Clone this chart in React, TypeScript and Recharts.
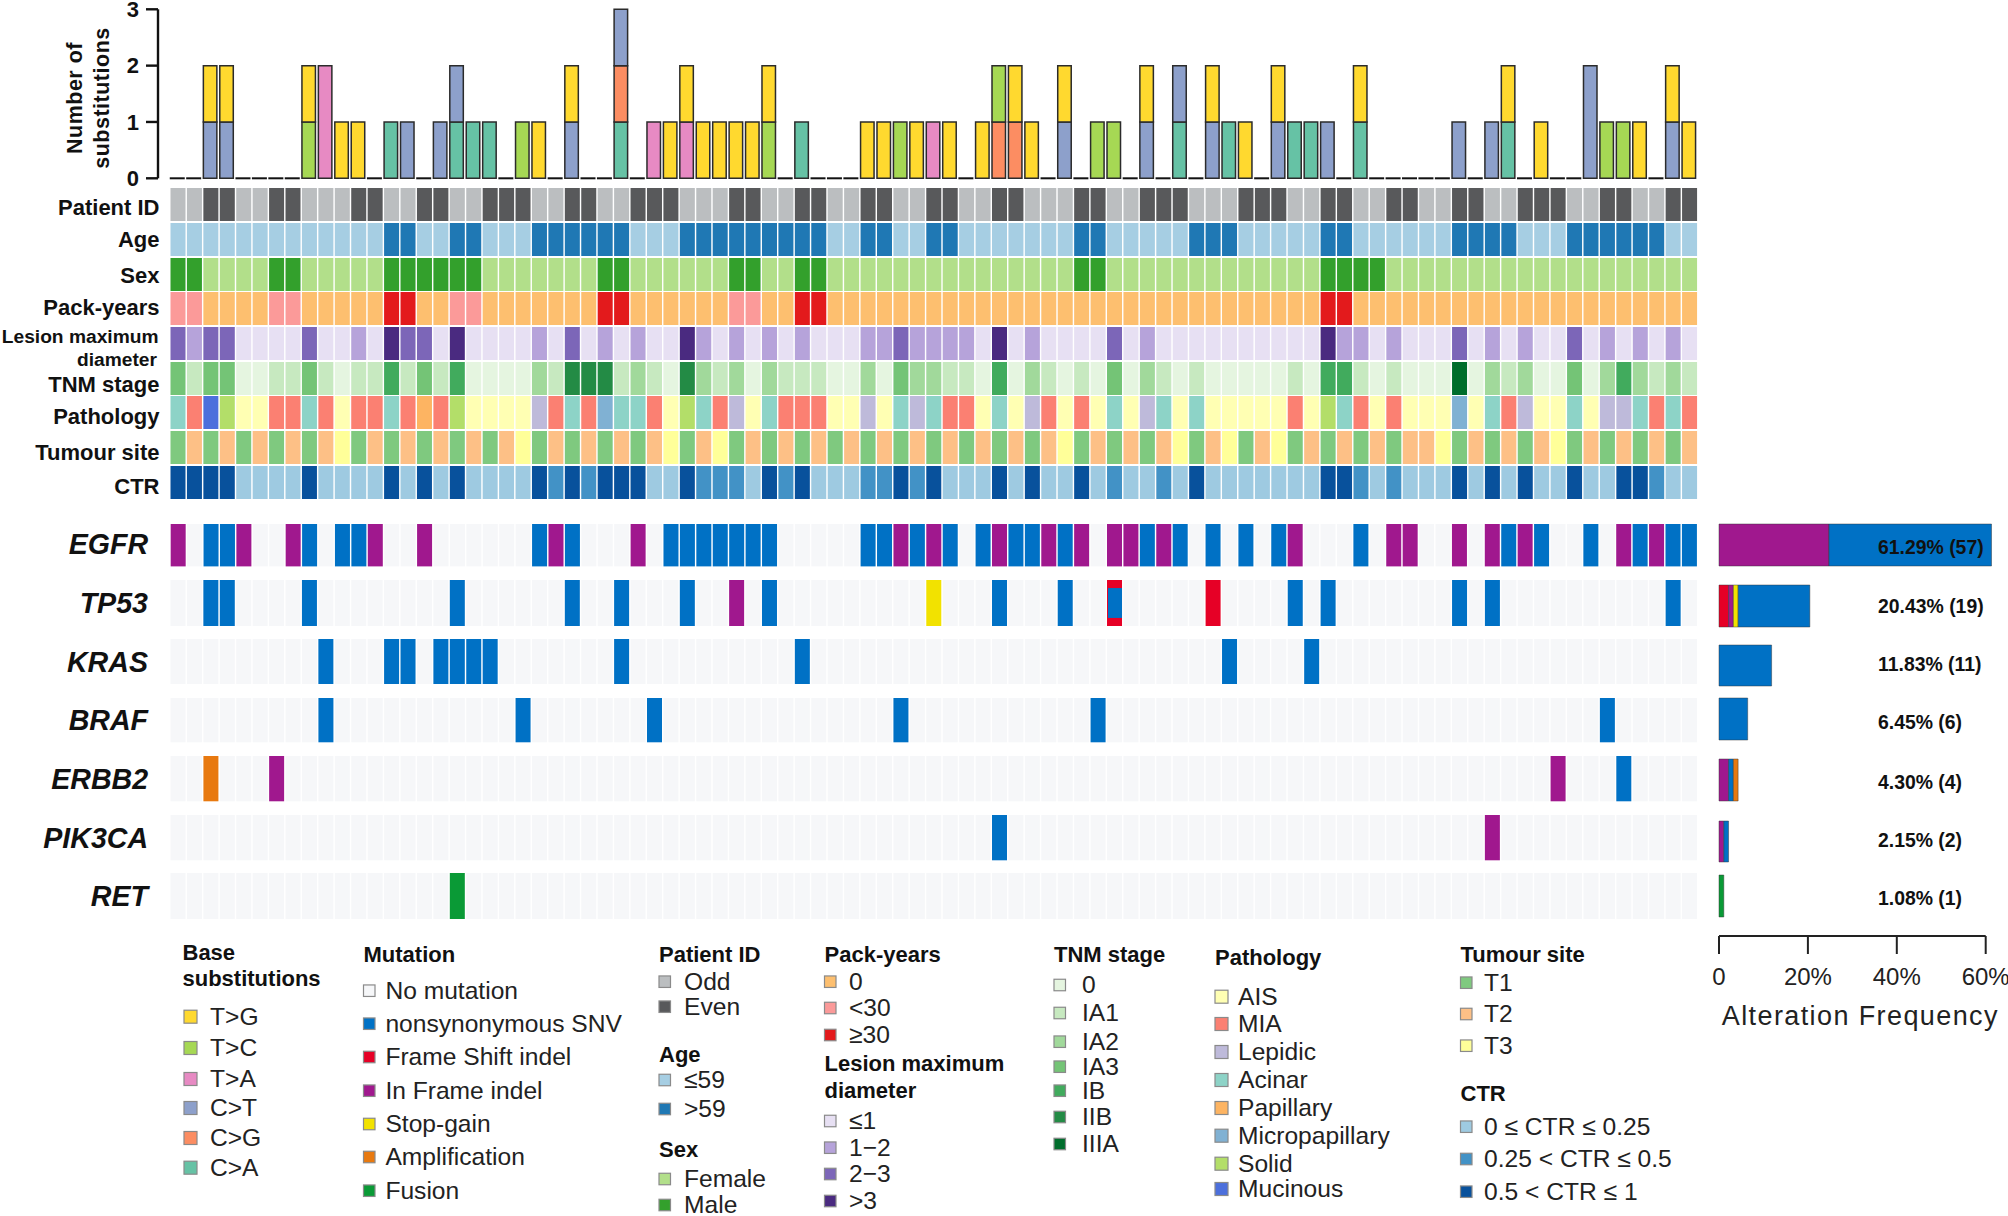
import React from "react";
import { BarChart, Bar, XAxis, YAxis } from "recharts";

// ---------- data: annotation tracks (one category code per patient) ----------
const PATIENT_ID = [
  0,0,1,1,0,0,1,1,0,0, 0,1,1,0,0,1,1,0,0,1, 1,1,0,0,1,1,0,0,1,1, 1,0,0,0,1,1,0,0,1,1,
  0,0,1,1,0,0,1,1,0,0, 1,1,0,0,0,1,1,0,0,1, 1,1,0,0,0,1,1,1,0,0, 1,1,0,0,1,1,0,0,1,1,
  0,0,1,1,1,0,0,1,1,0, 0,1,1];
const AGE = [
  0,0,0,0,0,0,0,0,0,0, 0,0,0,1,1,0,0,1,1,0, 0,0,1,1,1,1,1,1,0,0, 0,1,1,1,1,1,1,1,1,1,
  0,0,1,1,0,0,1,1,0,0, 0,0,0,0,0,1,1,0,0,0, 0,0,1,1,1,0,0,0,0,0, 1,1,0,0,0,0,0,0,1,1,
  1,1,0,0,0,1,1,1,1,1, 1,0,0];
const SEX = [
  1,1,0,0,0,0,1,1,0,0, 0,0,0,1,1,1,1,1,1,0, 0,0,0,0,0,0,1,1,0,0, 0,0,0,0,1,1,0,0,1,1,
  0,0,0,0,0,0,0,0,0,0, 0,0,0,0,0,1,1,0,0,0, 0,0,0,0,0,0,0,0,0,0, 1,1,1,1,0,0,0,0,0,0,
  0,0,0,0,0,0,0,0,0,0, 0,0,0];
const PACK_YEARS = [
  1,1,0,0,0,0,1,1,0,0, 0,0,0,2,2,0,0,1,1,0, 0,0,0,0,0,0,2,2,0,0, 0,0,0,0,1,1,0,0,2,2,
  0,0,0,0,0,0,0,0,0,0, 0,0,0,0,0,0,0,0,0,0, 0,0,0,0,0,0,0,0,0,0, 2,2,0,0,0,0,0,0,0,0,
  0,0,0,0,0,0,0,0,0,0, 0,0,0];
const LESION = [
  2,1,2,2,0,0,0,0,2,0, 0,1,0,3,2,2,0,3,0,0, 0,0,1,0,2,0,1,0,1,0, 0,3,1,0,1,0,1,0,1,0,
  0,0,1,1,2,1,1,1,1,0, 3,0,1,0,0,0,0,2,0,1, 0,0,0,0,0,0,0,0,0,0, 3,1,1,0,1,0,0,0,2,0,
  1,0,1,0,0,2,0,1,0,1, 0,1,0];
const TNM = [
  3,1,3,3,0,0,1,1,3,1, 0,1,1,4,1,3,1,4,0,0, 0,0,2,1,5,5,5,1,2,1, 0,5,2,1,2,0,2,1,1,1,
  0,0,2,0,3,2,2,1,1,0, 4,0,2,1,0,1,0,3,0,2, 1,0,1,0,0,0,0,0,1,0, 4,4,1,0,1,0,0,0,6,0,
  2,1,2,0,0,3,0,2,4,2, 1,2,1];
const PATHOLOGY = [
  3,1,7,6,0,0,1,1,3,1, 0,1,1,3,1,4,1,6,0,0, 0,0,2,1,3,1,5,3,3,1, 0,6,3,1,2,0,3,1,1,1,
  0,0,2,0,3,2,3,1,1,0, 3,0,2,1,0,1,0,3,0,2, 3,0,3,0,0,0,0,0,1,0, 6,3,1,0,1,0,0,0,5,0,
  3,1,2,0,0,3,0,2,2,3, 1,3,1];
const SITE = [
  0,1,0,1,0,1,0,1,0,1, 2,0,1,0,1,0,1,0,1,0, 1,2,0,1,0,1,0,1,0,1, 2,0,1,2,0,1,0,1,0,1,
  0,1,0,1,0,1,0,1,0,1, 0,1,0,1,2,0,1,0,1,0, 1,2,0,1,2,0,1,2,0,1, 0,1,0,1,0,1,1,2,0,1,
  0,1,0,1,2,0,1,0,1,0, 1,0,1];
const CTR = [
  2,2,2,2,0,0,0,0,2,0, 0,0,0,2,0,2,0,2,0,0, 0,0,2,1,2,1,2,2,2,0, 0,2,1,1,1,0,2,1,2,0,
  0,0,1,1,2,1,2,0,0,0, 2,0,2,0,0,2,0,1,0,0, 1,0,2,0,0,0,0,0,0,0, 2,2,1,0,1,0,0,0,2,0,
  2,0,2,0,0,2,0,0,2,2, 1,0,0];

// ---------- data: substitutions per patient (patient position, count) ----------
const PATIENT_COUNT = PATIENT_ID.length;
const SUB_TG: [number, number][] = [[2,1],[3,1],[8,1],[10,1],[11,1],[22,1],[24,1],[30,1],[31,1],[32,1],[33,1],[34,1],[35,1],[36,1],[42,1],[43,1],[45,1],[47,1],[49,1],[51,1],[52,1],[54,1],[59,1],[63,1],[65,1],[67,1],[72,1],[81,1],[83,1],[89,1],[91,1],[92,1]];
const SUB_TC: [number, number][] = [[8,1],[21,1],[36,1],[44,1],[50,1],[56,1],[57,1],[87,1],[88,1]];
const SUB_TA: [number, number][] = [[9,2],[29,1],[31,1],[46,1]];
const SUB_CT: [number, number][] = [[2,1],[3,1],[14,1],[16,1],[17,1],[24,1],[27,1],[54,1],[59,1],[61,1],[63,1],[67,1],[70,1],[78,1],[80,1],[86,2],[91,1]];
const SUB_CG: [number, number][] = [[27,1],[50,1],[51,1]];
const SUB_CA: [number, number][] = [[13,1],[17,1],[18,1],[19,1],[27,1],[38,1],[61,1],[64,1],[68,1],[69,1],[72,1],[81,1]];

// ---------- data: mutated patients per gene ----------
const EGFR_SNV = [2,3,8,10,11,22,24,30,31,32,33,34,35,36,42,43,45,47,49,51,52,54,59,61,63,65,67,72,81,83,86,89,91,92];
const EGFR_INFRAME = [0,4,7,12,15,23,28,44,46,50,53,55,57,58,60,68,74,75,78,80,82,88,90];
const TP53_SNV = [2,3,8,17,24,27,31,36,50,54,57,68,70,78,80,91];
const TP53_FRAMESHIFT = [57,63];
const TP53_INFRAME = [34];
const TP53_STOP = [46];
const KRAS_SNV = [9,13,14,16,17,18,19,27,38,64,69];
const BRAF_SNV = [9,21,29,44,56,87];
const ERBB2_SNV = [88];
const ERBB2_INFRAME = [6,84];
const ERBB2_AMP = [2];
const PIK3CA_SNV = [50];
const PIK3CA_INFRAME = [80];
const RET_FUSION = [17];

// ---------- data: alteration frequency (%) ----------
const GENES = ["EGFR","TP53","KRAS","BRAF","ERBB2","PIK3CA","RET"];
const FREQ_LABELS = ["61.29% (57)","20.43% (19)","11.83% (11)","6.45% (6)","4.30% (4)","2.15% (2)","1.08% (1)"];
const FREQ_FRAMESHIFT = [0,2.15,0,0,0,0,0];
const FREQ_INFRAME = [24.73,1.08,0,0,2.15,1.08,0];
const FREQ_STOP = [0,1.08,0,0,0,0,0];
const FREQ_SNV = [36.56,16.12,11.83,6.45,1.08,1.07,0];
const FREQ_AMP = [0,0,0,0,1.07,0,0];
const FREQ_FUSION = [0,0,0,0,0,0,1.08];
const FREQ_TICKS = [0,20,40,60];
const SUB_TICKS = [0,1,2,3];

// ---------- colours ----------
const C_SUB = { tg:"#FFD92F", tc:"#A6D854", ta:"#E78AC3", ct:"#8DA0CB", cg:"#FC8D62", ca:"#66C2A5" };
const C_MUT = { none:"#F6F7F9", snv:"#0071C5", fs:"#E60026", inframe:"#A0188E", stop:"#F2E200", amp:"#E8790F", fusion:"#0A9A36" };
const C_ID = ["#BBBEC0","#58595B"];
const C_AGE = ["#A6CEE3","#1F78B4"];
const C_SEX = ["#B2DF8A","#33A02C"];
const C_PACK = ["#FDBF6F","#FB9A99","#E31A1C"];
const C_LESION = ["#E7E0F3","#B6A3DA","#7C66B8","#4A2A80"];
const C_TNM = ["#E5F5E0","#C7E9C0","#A1D99B","#74C476","#41AB5D","#238B45","#006D2C"];
const C_PATH = ["#FFFFB3","#FB8072","#BEBADA","#8DD3C7","#FDB462","#80B1D3","#B3DE69","#4C6FDC"];
const C_SITE = ["#7FC97F","#FDC086","#FFFF99"];
const C_CTR = ["#9ECAE1","#4292C6","#08519C"];

const FONT = "'Liberation Sans', Arial, sans-serif";
const PAGE_W = 2008;
const GRID_L = 169.5;
const GRID_R = 1697.5;
const FREQ_L = 1719;

const patientKeys = Array.from({ length: PATIENT_COUNT }, (_, i) => i);

function pick(list: [number, number][], i: number) {
  const hit = list.find((e) => e[0] === i);
  return hit ? hit[1] : 0;
}

const subTable = patientKeys.map((i) => {
  const row = {
    patient: i, base: 0,
    ca: pick(SUB_CA, i), cg: pick(SUB_CG, i), ct: pick(SUB_CT, i),
    ta: pick(SUB_TA, i), tc: pick(SUB_TC, i), tg: pick(SUB_TG, i),
  };
  return { ...row, total: row.ca + row.cg + row.ct + row.ta + row.tc + row.tg };
});

const TRACKS = [
  { name: ["Patient ID"], codes: PATIENT_ID, colors: C_ID, top: 188.3, dy: 2.6, size: 22 },
  { name: ["Age"], codes: AGE, colors: C_AGE, top: 223, dy: -0.5, size: 22 },
  { name: ["Sex"], codes: SEX, colors: C_SEX, top: 257.7, dy: 0.2, size: 22 },
  { name: ["Pack-years"], codes: PACK_YEARS, colors: C_PACK, top: 292.3, dy: -1, size: 22 },
  { name: ["Lesion maximum","diameter"], codes: LESION, colors: C_LESION, top: 327, dy: 0, size: 19.2 },
  { name: ["TNM stage"], codes: TNM, colors: C_TNM, top: 361.7, dy: 5.2, size: 22 },
  { name: ["Pathology"], codes: PATHOLOGY, colors: C_PATH, top: 396.3, dy: 3.9, size: 22 },
  { name: ["Tumour site"], codes: SITE, colors: C_SITE, top: 431, dy: 4.2, size: 22 },
  { name: ["CTR"], codes: CTR, colors: C_CTR, top: 465.7, dy: 3.2, size: 22 },
];

const GENE_ROWS = [
  { top: 524.3, h: 42.4, dy: -1, snv: EGFR_SNV, fs: [], inframe: EGFR_INFRAME, stop: [], amp: [], fusion: [] },
  { top: 579.7, h: 46, dy: 0, snv: TP53_SNV, fs: TP53_FRAMESHIFT, inframe: TP53_INFRAME, stop: TP53_STOP, amp: [], fusion: [] },
  { top: 639.3, h: 45, dy: 0, snv: KRAS_SNV, fs: [], inframe: [], stop: [], amp: [], fusion: [] },
  { top: 698, h: 44.3, dy: 0, snv: BRAF_SNV, fs: [], inframe: [], stop: [], amp: [], fusion: [] },
  { top: 756, h: 45.3, dy: 0, snv: ERBB2_SNV, fs: [], inframe: ERBB2_INFRAME, stop: [], amp: ERBB2_AMP, fusion: [] },
  { top: 815, h: 45.3, dy: 0, snv: PIK3CA_SNV, fs: [], inframe: PIK3CA_INFRAME, stop: [], amp: [], fusion: [] },
  { top: 873, h: 46, dy: 0, snv: [], fs: [], inframe: [], stop: [], amp: [], fusion: RET_FUSION },
];
const FREQ_ROWS = [
  { top: 524, h: 42, dy: 2 }, { top: 585, h: 42, dy: 0 }, { top: 645, h: 41, dy: -1 }, { top: 698, h: 42, dy: 3 },
  { top: 759, h: 42, dy: 2 }, { top: 821, h: 41, dy: -1 }, { top: 875, h: 42, dy: 2 },
];

function rowChart(key: string, top: number, h: number, data: any[], shape: any, tick: any) {
  return (
    <div key={key} style={{ position: "absolute", left: 0, top }}>
      <BarChart width={PAGE_W} height={h} data={data} barSize={15} margin={{ top: 0, bottom: 0, left: 0.5, right: PAGE_W - GRID_R }}>
        <XAxis dataKey="patient" hide />
        <YAxis type="number" domain={[0, 1]} ticks={[0.5]} width={169} axisLine={false} tickLine={false} tickSize={0} tickMargin={0} tick={tick} />
        <Bar dataKey="v" isAnimationActive={false} shape={shape} />
      </BarChart>
    </div>
  );
}

function TrackRows() {
  return (
    <>
      {TRACKS.map((t) => {
        const data = patientKeys.map((i) => ({ patient: i, v: 1, code: t.codes[i] }));
        const shape = (p: any) => <rect x={p.x} y={p.y} width={p.width} height={p.height} fill={t.colors[p.payload.code]} />;
        const tick = (p: any) =>
          t.name.length === 1 ? (
            <text x={p.x - 10} y={p.y + t.dy} dy="0.36em" textAnchor="end" fontFamily={FONT} fontWeight="bold" fontSize={t.size} fill="#111">{t.name[0]}</text>
          ) : (
            <g>
              <text x={p.x - 11} y={p.y - 7.8} dy="0.36em" textAnchor="end" fontFamily={FONT} fontWeight="bold" fontSize={t.size} fill="#111">{t.name[0]}</text>
              <text x={p.x - 12.5} y={p.y + 15.5} dy="0.36em" textAnchor="end" fontFamily={FONT} fontWeight="bold" fontSize={t.size} fill="#111">{t.name[1]}</text>
            </g>
          );
        return rowChart(t.name[0], t.top, 33, data, shape, tick);
      })}
    </>
  );
}

function GeneRows() {
  return (
    <>
      {GENE_ROWS.map((g, r) => {
        const data = patientKeys.map((i) => ({
          patient: i, v: 1,
          snv: g.snv.includes(i), fs: g.fs.includes(i), inframe: g.inframe.includes(i),
          stop: g.stop.includes(i), amp: g.amp.includes(i), fusion: g.fusion.includes(i),
        }));
        const shape = (p: any) => {
          const d = p.payload;
          const fill = d.fs ? C_MUT.fs : d.inframe ? C_MUT.inframe : d.stop ? C_MUT.stop : d.amp ? C_MUT.amp : d.fusion ? C_MUT.fusion : d.snv ? C_MUT.snv : C_MUT.none;
          return (
            <g>
              <rect x={p.x} y={p.y} width={p.width} height={p.height} fill={fill} />
              {d.fs && d.snv ? <rect x={p.x + 1} y={p.y + p.height * 0.175} width={p.width - 1} height={p.height * 0.65} fill={C_MUT.snv} /> : null}
            </g>
          );
        };
        const tick = (p: any) => (
          <text x={p.x - 21.5} y={p.y + g.dy} dy="0.36em" textAnchor="end" fontFamily={FONT} fontWeight="bold" fontStyle="italic" fontSize={28.6} fill="#111">{GENES[r]}</text>
        );
        return rowChart(GENES[r], g.top, g.h, data, shape, tick);
      })}
    </>
  );
}

function FreqRows() {
  const EDGE = { stroke: "#333", strokeOpacity: 0.45, strokeWidth: 1 };
  return (
    <>
      {FREQ_ROWS.map((f, r) => {
        const data = [{
          label: FREQ_LABELS[r], fs: FREQ_FRAMESHIFT[r], inframe: FREQ_INFRAME[r], stop: FREQ_STOP[r],
          snv: FREQ_SNV[r], amp: FREQ_AMP[r], fusion: FREQ_FUSION[r],
        }];
        const tick = (p: any) => (
          <text x={p.x - 113.5} y={p.y + f.dy} dy="0.36em" textAnchor="start" fontFamily={FONT} fontWeight="bold" fontSize={19.4} fill="#111">{p.payload.value}</text>
        );
        return (
          <div key={"f" + r} style={{ position: "absolute", left: 0, top: f.top }}>
            <BarChart width={PAGE_W} height={f.h} data={data} layout="vertical" barCategoryGap={0} margin={{ top: 0, bottom: 0, left: FREQ_L, right: 0 }}>
              <XAxis type="number" domain={[0, 61.29]} hide />
              <YAxis type="category" dataKey="label" orientation="right" width={16.5} axisLine={false} tickLine={false} tickSize={0} tickMargin={0} tick={tick} interval={0} />
              <Bar dataKey="fs" stackId="a" fill={C_MUT.fs} isAnimationActive={false} {...EDGE} />
              <Bar dataKey="inframe" stackId="a" fill={C_MUT.inframe} isAnimationActive={false} {...EDGE} />
              <Bar dataKey="stop" stackId="a" fill={C_MUT.stop} isAnimationActive={false} {...EDGE} />
              <Bar dataKey="snv" stackId="a" fill={C_MUT.snv} isAnimationActive={false} {...EDGE} />
              <Bar dataKey="amp" stackId="a" fill={C_MUT.amp} isAnimationActive={false} {...EDGE} />
              <Bar dataKey="fusion" stackId="a" fill={C_MUT.fusion} isAnimationActive={false} {...EDGE} />
            </BarChart>
          </div>
        );
      })}
    </>
  );
}

function FreqAxis() {
  return (
    <div style={{ position: "absolute", left: 0, top: 935 }}>
      <BarChart width={PAGE_W} height={100} data={[{ name: "axis", v: 0 }]} layout="vertical" margin={{ top: 0, bottom: 0, left: FREQ_L, right: 22.3 }}>
        <XAxis
          type="number" domain={[0, 60]} ticks={FREQ_TICKS} height={99} interval={0}
          tickFormatter={(v: number) => (v === 0 ? "0" : v + "%")}
          axisLine={{ stroke: "#222", strokeWidth: 2.2 }} tickLine={{ stroke: "#222", strokeWidth: 2 }} tickSize={18} tickMargin={14}
          tick={{ fontFamily: FONT, fontSize: 24, fill: "#222" }}
          label={{ value: "Alteration Frequency", position: "insideBottom", offset: 10, dx: 8, fontFamily: FONT, fontSize: 27, letterSpacing: 1.4, fill: "#222" }}
        />
        <YAxis type="category" dataKey="name" hide />
        <Bar dataKey="v" isAnimationActive={false} fill="none" />
      </BarChart>
    </div>
  );
}

function SubstitutionChart() {
  const stroke = { stroke: "#2b2b2b", strokeWidth: 1.5 };
  const baseMark = (p: any) =>
    p.payload.total === 0 ? (
      <line x1={p.x - 0.75} x2={p.x + p.width + 0.75} y1={p.y} y2={p.y} stroke="#111" strokeWidth={2} />
    ) : (
      <g />
    );
  return (
    <div style={{ position: "absolute", left: 0, top: 0 }}>
      <BarChart width={PAGE_W} height={180} data={subTable} barSize={13.5} margin={{ top: 9.3, bottom: 1.7, left: 0, right: PAGE_W - GRID_R }}>
        <XAxis dataKey="patient" height={0} padding={{ left: GRID_L - 158, right: 0 }} axisLine={false} tickLine={false} tick={false} />
        <YAxis type="number" domain={[0, 3]} ticks={SUB_TICKS} width={158} interval={0}
          axisLine={{ stroke: "#111", strokeWidth: 2.4 }} tickLine={{ stroke: "#111", strokeWidth: 2.4 }} tickSize={12} tickMargin={7}
          tick={{ fontFamily: FONT, fontSize: 22, fontWeight: "bold", fill: "#111" }} />
        <Bar dataKey="base" stackId="s" isAnimationActive={false} shape={baseMark} />
        <Bar dataKey="ca" stackId="s" fill={C_SUB.ca} isAnimationActive={false} {...stroke} />
        <Bar dataKey="cg" stackId="s" fill={C_SUB.cg} isAnimationActive={false} {...stroke} />
        <Bar dataKey="ct" stackId="s" fill={C_SUB.ct} isAnimationActive={false} {...stroke} />
        <Bar dataKey="ta" stackId="s" fill={C_SUB.ta} isAnimationActive={false} {...stroke} />
        <Bar dataKey="tc" stackId="s" fill={C_SUB.tc} isAnimationActive={false} {...stroke} />
        <Bar dataKey="tg" stackId="s" fill={C_SUB.tg} isAnimationActive={false} {...stroke} />
      </BarChart>
    </div>
  );
}

// ---------- legends ----------
type Group = { x: number; tx: number; size: number; title: [string, number][]; items: [string, string, number][] };
const LEGENDS: Group[] = [
  { x: 184, tx: 210, size: 13, title: [["Base", 952], ["substitutions", 978]], items: [
    ["T>G", C_SUB.tg, 1016.7], ["T>C", C_SUB.tc, 1048], ["T>A", C_SUB.ta, 1079], ["C>T", C_SUB.ct, 1108], ["C>G", C_SUB.cg, 1138], ["C>A", C_SUB.ca, 1167.7]] },
  { x: 363.5, tx: 385.4, size: 11.5, title: [["Mutation", 954]], items: [
    ["No mutation", C_MUT.none, 990.7], ["nonsynonymous SNV", C_MUT.snv, 1023.7], ["Frame Shift indel", C_MUT.fs, 1057], ["In Frame indel", C_MUT.inframe, 1090.7], ["Stop-gain", C_MUT.stop, 1124], ["Amplification", C_MUT.amp, 1157], ["Fusion", C_MUT.fusion, 1190.7]] },
  { x: 659, tx: 684, size: 11.5, title: [["Patient ID", 954]], items: [["Odd", C_ID[0], 981.7], ["Even", C_ID[1], 1006.7]] },
  { x: 659, tx: 684, size: 11.5, title: [["Age", 1054]], items: [["≤59", C_AGE[0], 1080], [">59", C_AGE[1], 1109]] },
  { x: 659, tx: 684, size: 11.5, title: [["Sex", 1149]], items: [["Female", C_SEX[0], 1179], ["Male", C_SEX[1], 1205]] },
  { x: 824.5, tx: 849, size: 11.5, title: [["Pack-years", 954]], items: [["0", C_PACK[0], 981.7], ["<30", C_PACK[1], 1008], ["≥30", C_PACK[2], 1035]] },
  { x: 824.5, tx: 849, size: 11.5, title: [["Lesion maximum", 1063], ["diameter", 1090]], items: [["≤1", C_LESION[0], 1121], ["1−2", C_LESION[1], 1147.7], ["2−3", C_LESION[2], 1174], [">3", C_LESION[3], 1201]] },
  { x: 1054, tx: 1082, size: 11.5, title: [["TNM stage", 954]], items: [["0", C_TNM[0], 985], ["IA1", C_TNM[1], 1013], ["IA2", C_TNM[2], 1041.7], ["IA3", C_TNM[3], 1066.7], ["IB", C_TNM[4], 1090.7], ["IIB", C_TNM[5], 1117], ["IIIA", C_TNM[6], 1144]] },
  { x: 1215, tx: 1238, size: 13, title: [["Pathology", 957]], items: [["AIS", C_PATH[0], 996.7], ["MIA", C_PATH[1], 1024], ["Lepidic", C_PATH[2], 1052], ["Acinar", C_PATH[3], 1080], ["Papillary", C_PATH[4], 1108], ["Micropapillary", C_PATH[5], 1135.7], ["Solid", C_PATH[6], 1163.7], ["Mucinous", C_PATH[7], 1189]] },
  { x: 1460.5, tx: 1484, size: 11.5, title: [["Tumour site", 954]], items: [["T1", C_SITE[0], 982.7], ["T2", C_SITE[1], 1014], ["T3", C_SITE[2], 1045.7]] },
  { x: 1460.5, tx: 1484, size: 11.5, title: [["CTR", 1092.7]], items: [["0 ≤ CTR ≤ 0.25", C_CTR[0], 1126.7], ["0.25 < CTR ≤ 0.5", C_CTR[1], 1159], ["0.5 < CTR ≤ 1", C_CTR[2], 1191.7]] },
];

function Overlay() {
  return (
    <svg width={PAGE_W} height={1216} style={{ position: "absolute", left: 0, top: 0 }} fontFamily={FONT}>
      <g fontWeight="bold" fontSize={21.5} fill="#111" textAnchor="middle" letterSpacing={0.5}>
        <text transform="translate(74 98) rotate(-90)" dy="0.36em">Number of</text>
        <text transform="translate(101 98) rotate(-90)" dy="0.36em">substitutions</text>
      </g>
      {LEGENDS.map((g, gi) => (
        <g key={gi}>
          {g.title.map(([t, y]) => (
            <text key={t} x={g.x - (g.x === 184 ? 1.5 : 0)} y={y} dy="0.36em" fontWeight="bold" fontSize={22} fill="#111">{t}</text>
          ))}
          {g.items.map(([t, c, y]) => (
            <g key={t}>
              <rect x={g.x} y={y - g.size / 2} width={g.size} height={g.size} fill={c} stroke="#8a8a8a" strokeWidth={1.2} />
              <text x={g.tx} y={y} dy="0.34em" fontSize={24.6} fill="#222">{t}</text>
            </g>
          ))}
        </g>
      ))}
    </svg>
  );
}

export default function App() {
  return (
    <div style={{ position: "absolute", left: 0, top: 0, width: PAGE_W, height: 1216, background: "#fff", overflow: "hidden" }}>
      <style>{"svg{overflow:visible}"}</style>
      <Overlay />
      <SubstitutionChart />
      <TrackRows />
      <GeneRows />
      <FreqRows />
      <FreqAxis />
    </div>
  );
}
